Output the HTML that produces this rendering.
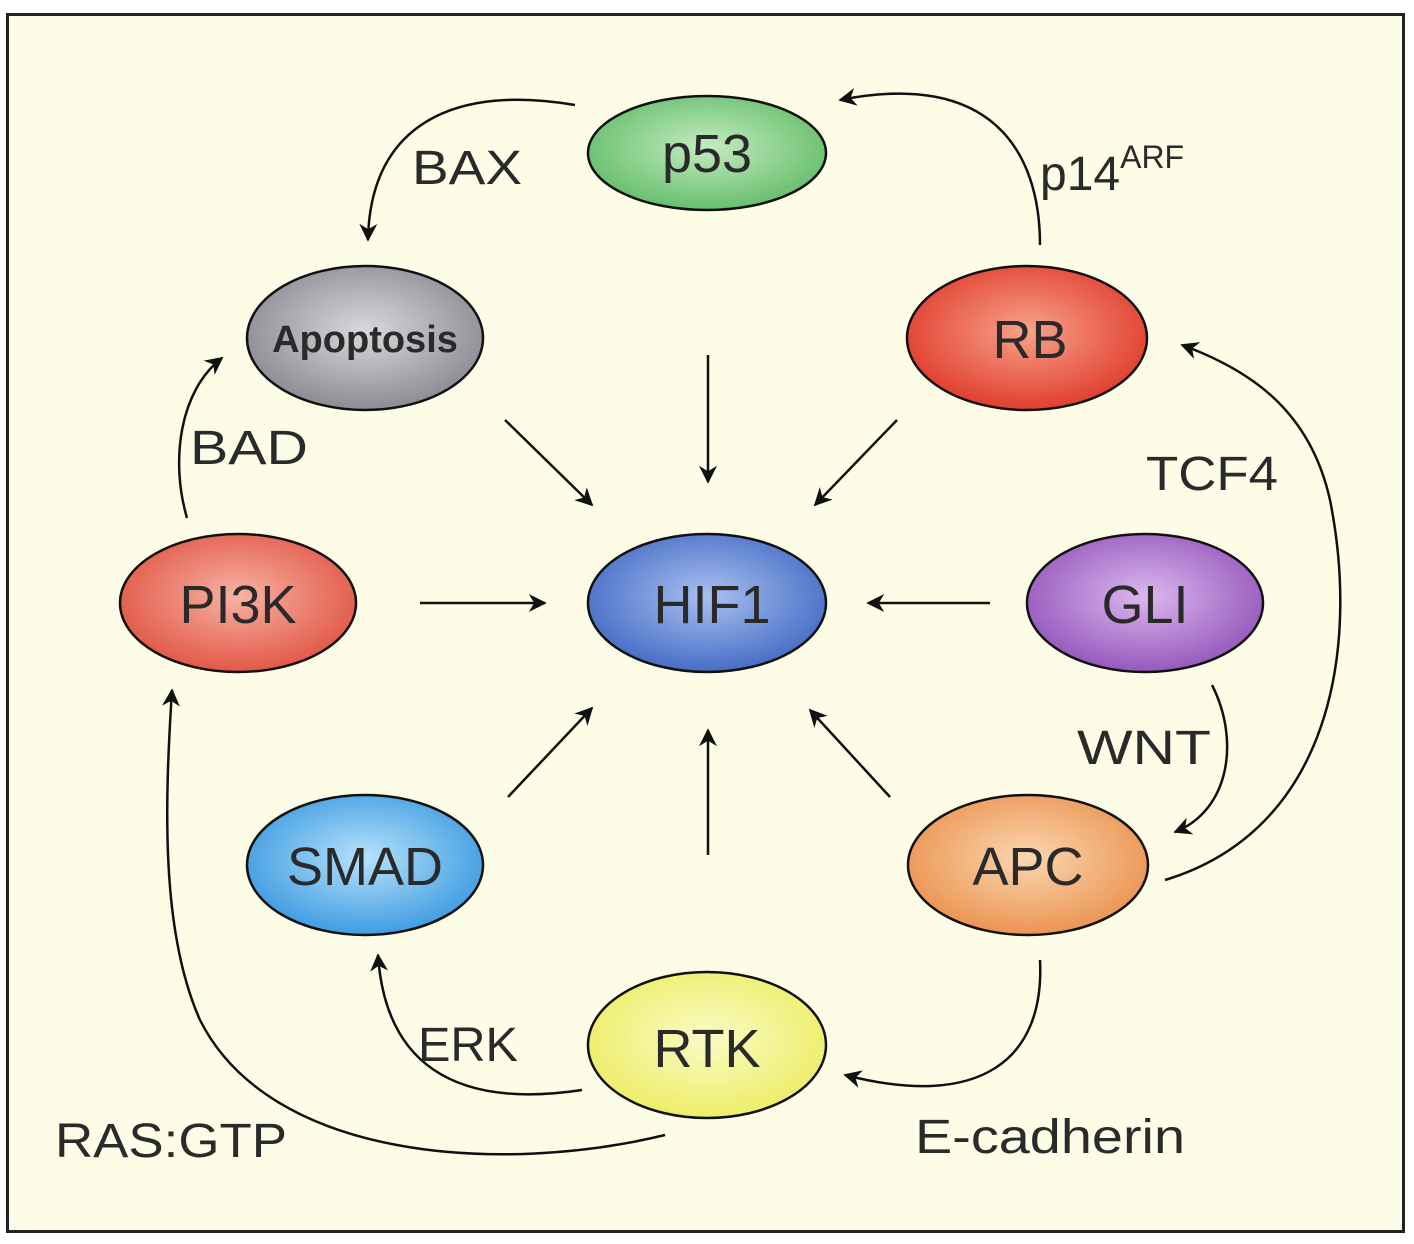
<!DOCTYPE html>
<html><head><meta charset="utf-8"><style>
html,body{margin:0;padding:0;background:#fff}
svg{display:block}
text{font-family:"Liberation Sans",sans-serif;fill:#2a2a2a}
</style></head><body>
<svg width="1414" height="1244" viewBox="0 0 1414 1244" xmlns="http://www.w3.org/2000/svg">
<defs>
<marker id="a" viewBox="0 0 10 10" refX="9" refY="5" markerWidth="7" markerHeight="7" orient="auto-start-reverse" markerUnits="userSpaceOnUse">
<path d="M0,0 L10,5 L0,10 L3,5 z" fill="#111"/></marker>
<marker id="b" viewBox="0 0 10 10" refX="9" refY="5" markerWidth="18" markerHeight="18" orient="auto" markerUnits="userSpaceOnUse">
<path d="M0,0 L10,5 L0,10 L3,5 z" fill="#111"/></marker>
<radialGradient id="g1" cx="50%" cy="45%" r="60%"><stop offset="0" stop-color="#c4ecc0"/><stop offset="1" stop-color="#5fba66"/></radialGradient>
<radialGradient id="g2" cx="50%" cy="45%" r="60%"><stop offset="0" stop-color="#d8d8dc"/><stop offset="1" stop-color="#85858e"/></radialGradient>
<radialGradient id="g3" cx="50%" cy="45%" r="60%"><stop offset="0" stop-color="#f7a38a"/><stop offset="1" stop-color="#df3526"/></radialGradient>
<radialGradient id="g4" cx="50%" cy="45%" r="60%"><stop offset="0" stop-color="#f7b2a4"/><stop offset="1" stop-color="#e0503f"/></radialGradient>
<radialGradient id="g5" cx="50%" cy="45%" r="60%"><stop offset="0" stop-color="#a9c0f0"/><stop offset="1" stop-color="#3f66c2"/></radialGradient>
<radialGradient id="g6" cx="50%" cy="45%" r="60%"><stop offset="0" stop-color="#dcb8ee"/><stop offset="1" stop-color="#9050b8"/></radialGradient>
<radialGradient id="g7" cx="50%" cy="45%" r="60%"><stop offset="0" stop-color="#b6e2fb"/><stop offset="1" stop-color="#3596df"/></radialGradient>
<radialGradient id="g8" cx="50%" cy="45%" r="60%"><stop offset="0" stop-color="#fad7b0"/><stop offset="1" stop-color="#ea8e4a"/></radialGradient>
<radialGradient id="g9" cx="50%" cy="45%" r="60%"><stop offset="0" stop-color="#fbfbc6"/><stop offset="1" stop-color="#ecec60"/></radialGradient>
</defs>
<rect x="7.5" y="14.5" width="1396" height="1217" fill="#fdfce6" stroke="#222" stroke-width="3"/>
<g fill="none" stroke="#111" stroke-width="2.5">
<path d="M575,105 C460,85 370,120 368,240" marker-end="url(#b)"/>
<path d="M1040,245 C1040,150 990,70 840,100" marker-end="url(#b)"/>
<path d="M187,518 C170,460 180,390 222,358" marker-end="url(#b)"/>
<path d="M505,420 L592,505" marker-end="url(#b)"/>
<path d="M708,355 L708,482" marker-end="url(#b)"/>
<path d="M897,420 L815,505" marker-end="url(#b)"/>
<path d="M420,603 L545,603" marker-end="url(#b)"/>
<path d="M990,603 L868,603" marker-end="url(#b)"/>
<path d="M508,797 L592,708" marker-end="url(#b)"/>
<path d="M708,855 L708,730" marker-end="url(#b)"/>
<path d="M890,797 L810,710" marker-end="url(#b)"/>
<path d="M1212,685 C1240,740 1230,810 1175,832" marker-end="url(#b)"/>
<path d="M1165,880 C1330,830 1360,650 1330,500 C1310,410 1250,370 1182,345" marker-end="url(#b)"/>
<path d="M1040,960 C1045,1060 980,1110 845,1075" marker-end="url(#b)"/>
<path d="M582,1090 C450,1110 385,1060 378,955" marker-end="url(#b)"/>
<path d="M665,1135 C500,1175 270,1160 200,1020 C160,930 165,800 172,690" marker-end="url(#b)"/>
</g>
<g stroke="#111" stroke-width="2.5">
<ellipse cx="707" cy="153" rx="119" ry="57" fill="url(#g1)"/>
<ellipse cx="365" cy="338" rx="118" ry="72" fill="url(#g2)"/>
<ellipse cx="1027" cy="338" rx="120" ry="72" fill="url(#g3)"/>
<ellipse cx="238" cy="603" rx="118" ry="69" fill="url(#g4)"/>
<ellipse cx="707" cy="603" rx="119" ry="69" fill="url(#g5)"/>
<ellipse cx="1145" cy="603" rx="118" ry="69" fill="url(#g6)"/>
<ellipse cx="365" cy="865" rx="118" ry="70" fill="url(#g7)"/>
<ellipse cx="1028" cy="865" rx="120" ry="70" fill="url(#g8)"/>
<ellipse cx="707" cy="1045" rx="119" ry="73" fill="url(#g9)"/>
</g>
<g text-anchor="middle" font-size="54">
<text x="707" y="172">p53</text>
<text x="365" y="352" font-size="38" font-weight="bold" fill="#222">Apoptosis</text>
<text x="1030" y="358">RB</text>
<text x="238" y="623">PI3K</text>
<text x="712" y="623">HIF1</text>
<text x="1145" y="623">GLI</text>
<text x="365" y="885">SMAD</text>
<text x="1028" y="885">APC</text>
<text x="707" y="1067">RTK</text>
</g>
<g font-size="48" fill="#333">
<text x="412" y="184" textLength="110" lengthAdjust="spacingAndGlyphs">BAX</text>
<text x="1040" y="190">p14<tspan font-size="32" dy="-22">ARF</tspan></text>
<text x="190" y="464" textLength="118" lengthAdjust="spacingAndGlyphs">BAD</text>
<text x="1146" y="490" textLength="132" lengthAdjust="spacingAndGlyphs">TCF4</text>
<text x="1077" y="764" textLength="134" lengthAdjust="spacingAndGlyphs">WNT</text>
<text x="418" y="1061" textLength="100" lengthAdjust="spacingAndGlyphs">ERK</text>
<text x="55" y="1157" textLength="232" lengthAdjust="spacingAndGlyphs">RAS:GTP</text>
<text x="915" y="1153" textLength="270" lengthAdjust="spacingAndGlyphs">E-cadherin</text>
</g>
</svg>
</body></html>
